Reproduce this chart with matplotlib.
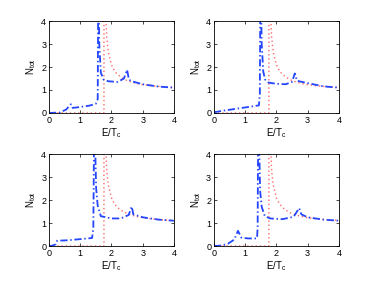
import numpy as np
import matplotlib
matplotlib.use('Agg')
import matplotlib.pyplot as plt

plt.rcParams['font.family'] = ['Liberation Sans', 'DejaVu Sans']

# red dotted reference curve (same in every panel)
red_x = [0.0, 1.76, 1.76, 1.78, 1.80, 1.85, 1.90, 2.00, 2.10, 2.20, 2.35, 2.50, 2.75, 3.00, 3.25, 3.50, 3.75, 4.00]
red_y = [0.0, 0.0, 6.0, 6.0, 4.77, 3.25, 2.65, 2.10, 1.83, 1.67, 1.52, 1.41, 1.30, 1.235, 1.19, 1.157, 1.13, 1.114]

# blue dash-dot curves, one per panel
blue_x1 = [0.0, 0.35, 0.55, 0.70, 0.76, 1.0, 1.3, 1.50, 1.56, 1.58, 1.61, 1.66, 1.75, 1.90, 2.2, 2.40, 2.50, 2.56, 2.65, 3.0, 3.5, 4.0]
blue_y1 = [0.0, 0.02, 0.15, 0.38, 0.22, 0.26, 0.32, 0.40, 0.60, 6.0, 3.0, 1.75, 1.45, 1.38, 1.35, 1.50, 1.88, 1.45, 1.38, 1.25, 1.15, 1.10]

blue_x2 = [0.0, 0.3, 0.8, 1.2, 1.44, 1.47, 1.49, 1.53, 1.58, 1.64, 1.75, 2.0, 2.3, 2.50, 2.59, 2.66, 3.0, 3.5, 4.0]
blue_y2 = [0.03, 0.10, 0.20, 0.28, 0.33, 0.80, 6.0, 3.0, 1.80, 1.45, 1.32, 1.27, 1.25, 1.35, 1.72, 1.40, 1.30, 1.16, 1.10]

blue_x3 = [0.0, 0.12, 0.22, 0.26, 0.6, 1.0, 1.38, 1.42, 1.45, 1.51, 1.56, 1.66, 2.0, 2.3, 2.55, 2.65, 2.70, 3.0, 3.5, 4.0]
blue_y3 = [0.0, 0.02, 0.08, 0.23, 0.25, 0.30, 0.35, 0.80, 6.0, 2.5, 1.75, 1.30, 1.20, 1.20, 1.35, 1.72, 1.38, 1.25, 1.15, 1.10]

blue_x4 = [0.0, 0.25, 0.45, 0.65, 0.77, 0.88, 1.1, 1.38, 1.40, 1.42, 1.48, 1.53, 1.63, 1.8, 2.2, 2.55, 2.73, 2.80, 3.0, 3.5, 4.0]
blue_y4 = [0.0, 0.02, 0.10, 0.28, 0.66, 0.36, 0.33, 0.33, 0.80, 6.0, 2.4, 1.70, 1.30, 1.20, 1.17, 1.27, 1.65, 1.38, 1.25, 1.15, 1.10]

blues = [(blue_x1, blue_y1), (blue_x2, blue_y2), (blue_x3, blue_y3), (blue_x4, blue_y4)]

fig = plt.figure(figsize=(3.74, 2.81), dpi=100)
lefts = [0.131, 0.572, 0.131, 0.572]
bottoms = [0.598, 0.598, 0.1245, 0.1245]

for i in range(4):
    ax = fig.add_axes([lefts[i], bottoms[i], 0.334, 0.327])
    ax.plot(red_x, red_y, color='#ff6a6a', linestyle=(0, (1, 2)), linewidth=1.0)
    bx, by = blues[i]
    ax.plot(bx, by, color='#2446ff', linestyle=(0, (4, 1.5, 0.8, 1.5)), linewidth=1.3)
    ax.set_xlim(0, 4)
    ax.set_ylim(0, 4)
    ax.set_xticks([0, 1, 2, 3, 4])
    ax.set_yticks([0, 1, 2, 3, 4])
    ax.tick_params(direction='in', length=2.5, width=0.5, labelsize=6.5,
                   top=True, right=True, pad=2)
    for s in ax.spines.values():
        s.set_linewidth(0.6)
    ax.set_xlabel(r'E/T$_\mathregular{c}$', fontsize=7, labelpad=1)
    ax.set_ylabel(r'N$_\mathregular{tot}$', fontsize=7, labelpad=2)

plt.savefig('out.png', dpi=100)
